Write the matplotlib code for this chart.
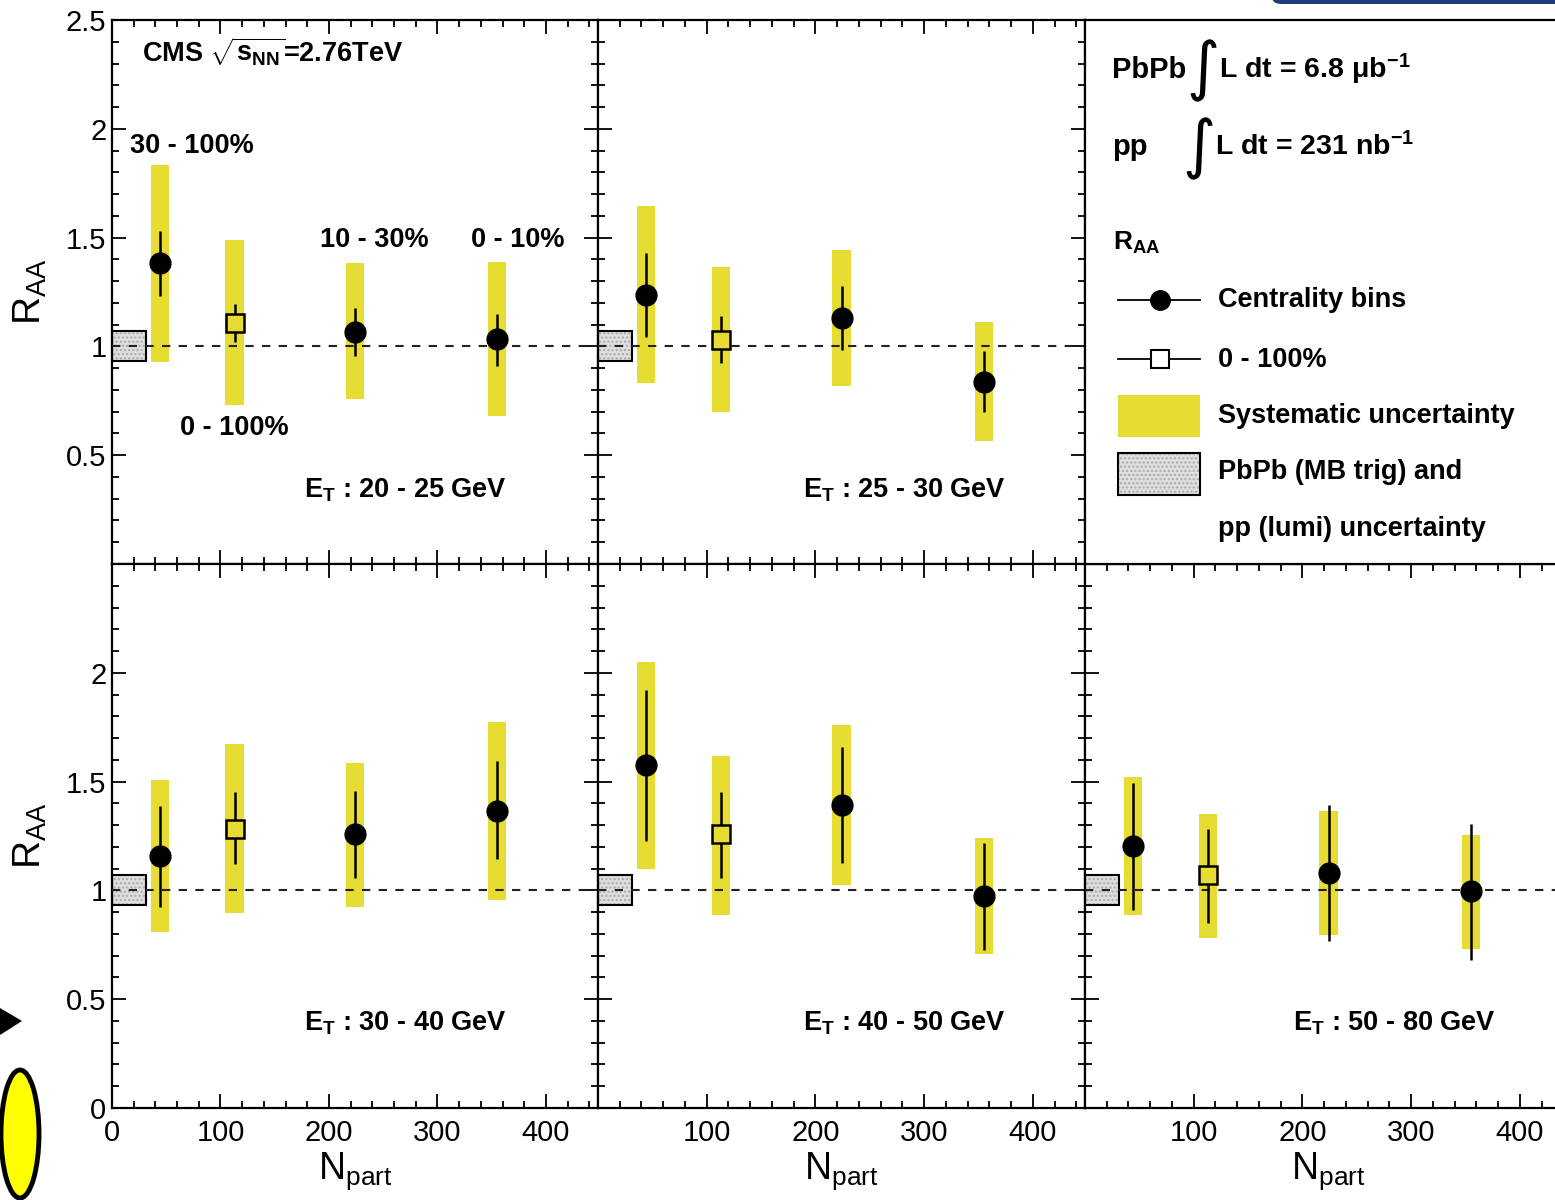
import matplotlib
matplotlib.use('Agg')
import matplotlib.pyplot as plt
from matplotlib.ticker import MultipleLocator, FuncFormatter
from matplotlib.patches import Rectangle, Ellipse, Polygon, FancyBboxPatch

#-------------------#
# Fonts
#-------------------#
plt.rcParams['font.family'] = ['Liberation Sans', 'DejaVu Sans']
plt.rcParams['mathtext.fontset'] = 'custom'
plt.rcParams['mathtext.rm'] = 'Liberation Sans'
plt.rcParams['mathtext.it'] = 'Liberation Sans:italic'
plt.rcParams['mathtext.bf'] = 'Liberation Sans:bold'
plt.rcParams['mathtext.sf'] = 'Liberation Sans'

#-------------------#
# Data (order: 30-100%, 0-100%, 10-30%, 0-10%)
#-------------------#
npart = [44, 113, 224, 355]
is_mb = [False, True, False, False]
et_bins = ['20 - 25', '25 - 30', '30 - 40', '40 - 50', '50 - 80']

raa = [[1.381, 1.107, 1.066, 1.032],
       [1.238, 1.031, 1.130, 0.837],
       [1.158, 1.284, 1.258, 1.366],
       [1.578, 1.257, 1.392, 0.974],
       [1.204, 1.069, 1.080, 0.997]]
stat_hi = [[1.530, 1.197, 1.178, 1.147],
           [1.430, 1.140, 1.276, 0.978],
           [1.386, 1.450, 1.456, 1.594],
           [1.919, 1.450, 1.660, 1.220],
           [1.493, 1.284, 1.392, 1.304]]
stat_lo = [[1.232, 1.020, 0.955, 0.912],
           [1.043, 0.922, 0.985, 0.697],
           [0.926, 1.120, 1.055, 1.143],
           [1.229, 1.055, 1.128, 0.724],
           [0.912, 0.848, 0.767, 0.682]]
sys_hi = [[1.834, 1.488, 1.381, 1.387],
          [1.647, 1.364, 1.444, 1.111],
          [1.508, 1.674, 1.587, 1.776],
          [2.049, 1.618, 1.760, 1.241],
          [1.522, 1.350, 1.364, 1.255]]
sys_lo = [[0.928, 0.731, 0.757, 0.681],
          [0.834, 0.697, 0.819, 0.567],
          [0.810, 0.897, 0.925, 0.955],
          [1.100, 0.888, 1.026, 0.710],
          [0.889, 0.782, 0.794, 0.731]]
norm_unc = 0.069   # PbPb (MB trig) and pp (lumi)
norm_width = 31

#-------------------#
# Style
#-------------------#
yellow = '#e6dc32'
grey = '#dedede'
W, H = 1555, 1200
fig = plt.figure(figsize=(W / 100, H / 100), dpi=100)

def ax_at(left, top, w, h):
	return fig.add_axes([left / W, 1 - (top + h) / H, w / W, h / H])

def grey_box(ax, xy, w, h, **kw):
	# dotted fill with a separate black outline
	ax.add_patch(Rectangle(xy, w, h, facecolor=grey, edgecolor='#a8a8a8', lw=0, hatch='....', **kw))
	ax.add_patch(Rectangle(xy, w, h, facecolor='none', edgecolor='black', lw=1.5, **kw))

def style_axes(ax, row, col):
	ax.set_xlim(0, 448)
	ax.set_ylim(0, 2.5)
	ax.xaxis.set_major_locator(MultipleLocator(100))
	ax.xaxis.set_minor_locator(MultipleLocator(20))
	ax.yaxis.set_major_locator(MultipleLocator(0.5))
	ax.yaxis.set_minor_locator(MultipleLocator(0.1))
	ax.tick_params(which='both', direction='in', top=True, right=True, width=1.3, labelsize=21)
	ax.tick_params(which='major', length=10)
	ax.tick_params(which='minor', length=5)
	ax.tick_params(axis='y', pad=4)
	ax.tick_params(axis='x', pad=8)
	for s in ax.spines.values():
		s.set_linewidth(1.6)
	if col == 0:
		if row == 0:
			ax.yaxis.set_major_formatter(FuncFormatter(lambda v, p: '' if v < 0.1 else '%g' % v))
		else:
			ax.yaxis.set_major_formatter(FuncFormatter(lambda v, p: '' if v > 2.4 else '%g' % v))
		ax.set_ylabel(r'$\mathregular{R_{AA}}$', fontsize=28, labelpad=12)
	else:
		ax.set_yticklabels([])
	if row == 1:
		if col == 0:
			ax.xaxis.set_major_formatter(FuncFormatter(lambda v, p: '%g' % v))
		else:
			ax.xaxis.set_major_formatter(FuncFormatter(lambda v, p: '' if v < 1 else '%g' % v))
		ax.set_xlabel(r'$\mathregular{N_{part}}$', fontsize=27, labelpad=2)
	else:
		ax.set_xticklabels([])

def draw_panel(ax, i):
	grey_box(ax, (0, 1 - norm_unc), norm_width, 2 * norm_unc, zorder=2)
	for j in range(len(npart)):
		ax.bar(npart[j], sys_hi[i][j] - sys_lo[i][j], bottom=sys_lo[i][j], width=17,
			color=yellow, lw=0, zorder=2)
	ax.axhline(1, ls=(0, (4, 4)), color='#222222', lw=1.5, zorder=3)
	for j in range(len(npart)):
		yerr = [[raa[i][j] - stat_lo[i][j]], [stat_hi[i][j] - raa[i][j]]]
		if is_mb[j]:
			ax.errorbar(npart[j], raa[i][j], yerr=yerr, xerr=8, fmt='s', ms=13,
				mfc=yellow, mec='black', mew=1.8, ecolor='black', elinewidth=1.8, capsize=0, zorder=4)
		else:
			ax.errorbar(npart[j], raa[i][j], yerr=yerr, xerr=8, fmt='o', ms=15,
				mfc='black', mec='black', ecolor='black', elinewidth=1.8, capsize=0, zorder=4)

#-------------------#
# Panels
#-------------------#
col_left = [112, 598, 1085]
col_w = [486, 487, 487]
row_top = [20, 564]
row_h = 544
panels = [(0, 0), (0, 1), (1, 0), (1, 1), (1, 2)]
text_x = [0.395, 0.421, 0.395, 0.421, 0.427]
text_y = [0.123, 0.123, 0.143, 0.143, 0.143]

bold = dict(fontsize=19.5, fontweight='bold')
for i, (r, c) in enumerate(panels):
	ax = ax_at(col_left[c], row_top[r], col_w[c], row_h)
	style_axes(ax, r, c)
	draw_panel(ax, i)
	ax.text(text_x[i], text_y[i], r'$\mathbf{E_T}$ : ' + et_bins[i] + ' GeV',
		transform=ax.transAxes, va='baseline', **bold)
	if i == 0:
		ax.text(0.062, 0.923, r'CMS $\sqrt{\mathbf{s_{NN}}}$=2.76TeV', transform=ax.transAxes, va='baseline', **bold)
		ax.text(0.037, 0.756, '30 - 100%', transform=ax.transAxes, va='baseline', **bold)
		ax.text(0.428, 0.583, '10 - 30%', transform=ax.transAxes, va='baseline', **bold)
		ax.text(0.739, 0.583, '0 - 10%', transform=ax.transAxes, va='baseline', **bold)
		ax.text(0.140, 0.237, '0 - 100%', transform=ax.transAxes, va='baseline', **bold)

#-------------------#
# Legend panel
#-------------------#
lg = ax_at(col_left[2], row_top[0], col_w[2], row_h)
lg.set_xticks([])
lg.set_yticks([])
for s in lg.spines.values():
	s.set_linewidth(1.6)

def lx(px):
	return (px - col_left[2]) / col_w[2]

def ly(py):
	return (row_top[0] + row_h - py) / row_h

tr = lg.transAxes
lg.text(lx(1112), ly(78), 'PbPb', transform=tr, va='baseline', fontsize=21, fontweight='bold')
lg.text(lx(1186), ly(88), '\u222b', transform=tr, va='baseline', fontsize=46, family=['DejaVu Sans'])
lg.text(lx(1219), ly(78), 'L dt = 6.8 \u03bcb$^{\\mathbf{-1}}$', transform=tr, va='baseline', fontsize=20.5, fontweight='bold')
lg.text(lx(1112), ly(155), 'pp', transform=tr, va='baseline', fontsize=21, fontweight='bold')
lg.text(lx(1182), ly(166), '\u222b', transform=tr, va='baseline', fontsize=46, family=['DejaVu Sans'])
lg.text(lx(1215), ly(155), 'L dt = 231 nb$^{\\mathbf{-1}}$', transform=tr, va='baseline', fontsize=20.5, fontweight='bold')
lg.text(lx(1113), ly(250), r'$\mathbf{R_{AA}}$', transform=tr, va='baseline', fontsize=19)

lg.plot([lx(1118), lx(1200)], [ly(300), ly(300)], color='black', lw=1.3, transform=tr)
lg.plot([lx(1160)], [ly(300)], 'o', ms=14, color='black', transform=tr)
lg.plot([lx(1118), lx(1200)], [ly(359), ly(359)], color='black', lw=1.3, transform=tr)
lg.plot([lx(1160)], [ly(359)], 's', ms=13, mfc='white', mec='black', mew=1.5, transform=tr)
lg.add_patch(Rectangle((lx(1118), ly(437)), lx(1200) - lx(1118), ly(395) - ly(437),
	facecolor=yellow, lw=0, transform=tr))
grey_box(lg, (lx(1118), ly(495)), lx(1200) - lx(1118), ly(453) - ly(495), transform=tr)

lg.text(lx(1218), ly(307), 'Centrality bins', transform=tr, va='baseline', **bold)
lg.text(lx(1218), ly(367), '0 - 100%', transform=tr, va='baseline', **bold)
lg.text(lx(1218), ly(423), 'Systematic uncertainty', transform=tr, va='baseline', **bold)
lg.text(lx(1218), ly(479), 'PbPb (MB trig) and', transform=tr, va='baseline', **bold)
lg.text(lx(1218), ly(536), 'pp (lumi) uncertainty', transform=tr, va='baseline', **bold)

#-------------------#
# Slide decorations
#-------------------#
def fx(px):
	return px / W

def fy(py):
	return 1 - py / H

fig.patches.append(FancyBboxPatch((fx(1272), fy(4)), fx(320), fy(0) - fy(12),
	boxstyle='round,pad=0,rounding_size=0.006', facecolor='#1f3d7a', edgecolor='none',
	transform=fig.transFigure, figure=fig))
fig.patches.append(Polygon([(fx(0), fy(1008)), (fx(22), fy(1021)), (fx(0), fy(1035))],
	closed=True, facecolor='black', edgecolor='none', transform=fig.transFigure, figure=fig))
fig.patches.append(Ellipse((fx(20), fy(1134)), fx(38), fy(0) - fy(128),
	facecolor='#ffff00', edgecolor='black', lw=3.5, transform=fig.transFigure, figure=fig))

fig.savefig('out.png', dpi=100)
